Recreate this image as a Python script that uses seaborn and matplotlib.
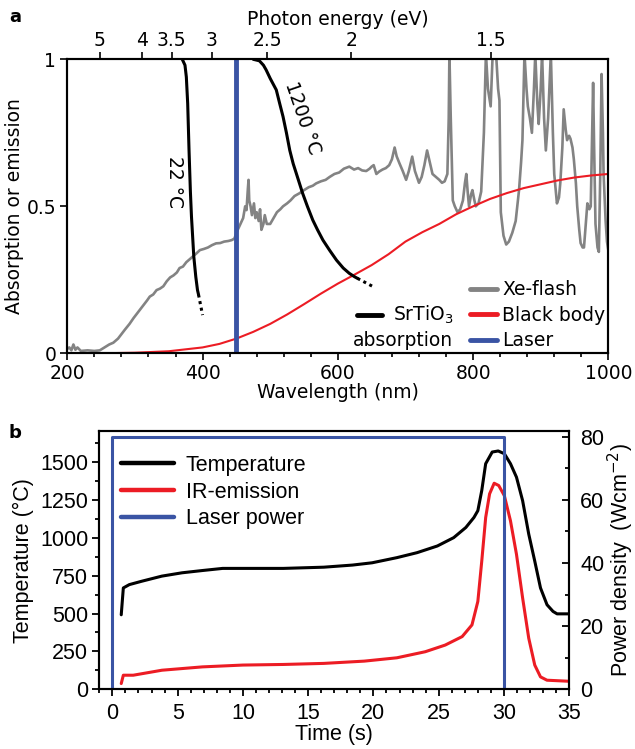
import numpy as np
import pandas as pd
import matplotlib
matplotlib.use('Agg')
import matplotlib.pyplot as plt
import seaborn as sns
from matplotlib.lines import Line2D
from matplotlib.ticker import AutoMinorLocator, MultipleLocator

# ---------------- Panel a data ----------------
xe_wl = [200, 203, 206, 209, 212, 215, 220, 230, 240, 248, 255, 262, 268, 275, 280, 285, 292, 298, 303, 308,
         313, 318, 322, 327, 332, 337, 342, 347, 352, 357, 362, 366, 371, 376, 381, 386, 391, 396, 402, 408,
         414, 420, 426, 432, 438, 443, 447, 452, 456, 460, 463, 465, 467, 468, 469, 471, 473, 476, 478, 480,
         483, 485, 487, 490, 492, 495, 500, 505, 510, 515, 519, 525, 530, 536, 543, 550, 557, 563, 568, 575,
         582, 588, 595, 602, 609, 617, 624, 630, 636, 642, 647, 650, 653, 657, 661, 666, 671, 676, 680, 684,
         687, 691, 696, 701, 705, 708, 710, 714, 720, 724, 728, 732, 736, 740, 745, 750, 754, 758, 762, 764,
         765, 767, 770, 773, 777, 781, 785, 788, 790, 792, 794, 797, 799, 802, 804, 808, 812, 816, 819, 822,
         826, 829, 832, 834, 837, 839, 841, 845, 849, 853, 858, 863, 868, 871, 873, 876, 879, 881, 884, 887,
         890, 892, 895, 897, 900, 902, 905, 907.6, 911, 915, 918, 920, 924, 927, 929, 932, 934, 937, 939, 942,
         944, 947, 949, 952, 954, 957, 959, 962, 964, 967, 969, 972, 974, 976, 977.5, 979, 981, 984, 986, 988,
         990, 992, 993, 996, 998, 1000]
xe_val = [0.015, 0.02, 0.01, 0.03, 0.012, 0.02, 0.008, 0.01, 0.008, 0.01, 0.02, 0.03, 0.036, 0.05, 0.065, 0.08, 0.10, 0.12, 0.135, 0.15,
          0.165, 0.18, 0.193, 0.20, 0.215, 0.22, 0.228, 0.245, 0.258, 0.265, 0.275, 0.29, 0.295, 0.31, 0.32, 0.33, 0.34, 0.351, 0.355, 0.36,
          0.368, 0.374, 0.375, 0.38, 0.382, 0.385, 0.39, 0.42, 0.44, 0.46, 0.50, 0.487, 0.56, 0.59, 0.52, 0.50, 0.47, 0.51, 0.46, 0.48,
          0.45, 0.49, 0.42, 0.44, 0.47, 0.44, 0.44, 0.46, 0.48, 0.49, 0.50, 0.51, 0.52, 0.535, 0.544, 0.555, 0.565, 0.57, 0.578, 0.585,
          0.59, 0.60, 0.61, 0.615, 0.628, 0.635, 0.625, 0.63, 0.622, 0.62, 0.628, 0.635, 0.64, 0.61, 0.618, 0.625, 0.63, 0.64, 0.66, 0.70,
          0.67, 0.647, 0.62, 0.59, 0.62, 0.65, 0.669, 0.62, 0.58, 0.60, 0.64, 0.69, 0.65, 0.61, 0.60, 0.59, 0.58, 0.585, 0.61, 0.80,
          1.02, 0.80, 0.52, 0.50, 0.48, 0.49, 0.52, 0.58, 0.61, 0.55, 0.50, 0.54, 0.555, 0.52, 0.50, 0.51, 0.55, 0.75, 1.02, 0.90,
          0.84, 1.02, 1.02, 1.02, 0.90, 0.86, 0.48, 0.40, 0.37, 0.38, 0.41, 0.45, 0.556, 0.65, 0.725, 1.02, 0.90, 0.84, 0.80, 0.75,
          0.90, 1.02, 0.85, 0.78, 0.90, 1.02, 0.80, 0.69, 0.80, 1.02, 0.75, 0.61, 0.51, 0.53, 0.58, 0.70, 0.83, 0.76, 0.725, 0.74,
          0.73, 0.70, 0.66, 0.58, 0.50, 0.42, 0.375, 0.36, 0.36, 0.45, 0.51, 0.49, 0.50, 0.75, 0.92, 0.70, 0.44, 0.36, 0.345, 0.60,
          0.95, 0.75, 0.61, 0.45, 0.38, 0.35]

bb_wl = [200, 250, 300, 350, 400, 425, 450, 475, 500, 525, 550, 575, 600, 625, 650, 675, 700, 725, 750, 775,
         800, 825, 850, 875, 900, 925, 950, 975, 1000]
bb_val = [0.0, 0.0, 0.002, 0.007, 0.02, 0.032, 0.05, 0.073, 0.10, 0.132, 0.167, 0.203, 0.237, 0.268, 0.30, 0.337, 0.38, 0.412, 0.44, 0.473,
          0.50, 0.525, 0.545, 0.562, 0.575, 0.588, 0.598, 0.605, 0.61]

s22_wl = [370, 374, 376, 378, 380, 382, 383.6, 385.5, 387, 390, 392.5, 394]
s22_val = [1.0, 0.98, 0.94, 0.85, 0.69, 0.55, 0.465, 0.39, 0.33, 0.26, 0.215, 0.20]
s22d_wl = [394, 400]
s22d_val = [0.20, 0.13]

s1200_wl = [475, 484, 490, 494, 500, 509, 514, 519, 524, 529, 534, 538.6, 548, 555, 563, 570, 578, 588, 598, 608, 617, 625, 629]
s1200_val = [1.0, 0.995, 0.98, 0.964, 0.935, 0.896, 0.85, 0.805, 0.75, 0.69, 0.645, 0.612, 0.544, 0.50, 0.453, 0.42, 0.385, 0.35, 0.317, 0.29, 0.272, 0.26, 0.255]
s1200d_wl = [629, 652]
s1200d_val = [0.255, 0.227]

laser_wl = [450, 450]
laser_val = [0.0, 1.0]

energy_ticks = [5, 4, 3.5, 3, 2.5, 2, 1.5]
energy_labels = ['5', '4', '3.5', '3', '2.5', '2', '1.5']

# ---------------- Panel b data ----------------
temp_t = [0.68, 0.84, 1.3, 2.24, 3.79, 5.34, 6.9, 8.45, 10, 13.1, 16.2, 18.4, 19.9, 21.8, 23.35, 24.9, 26.15, 27.08, 27.7, 28.0,
          28.3, 28.6, 29.1, 29.56, 30.03, 30.5, 30.96, 31.43, 31.9, 32.36, 32.8, 33.3, 33.76, 34.07, 35]
temp_T = [492, 669, 691, 713, 747, 769, 784, 798, 798, 798, 806, 820, 835, 869, 902, 946, 1001, 1068, 1134, 1179,
          1312, 1489, 1566, 1573, 1555, 1489, 1400, 1245, 1024, 846, 669, 558, 514, 498, 498]
ir_t = [0.68, 0.84, 1.6, 3.8, 6.9, 10, 13.1, 16.2, 19.3, 21.8, 23.97, 25.5, 26.8, 27.55, 28.0, 28.3, 28.6, 28.9, 29.25, 29.6,
        30.03, 30.5, 30.96, 31.43, 31.9, 32.36, 32.8, 33.3, 35]
ir_T = [38, 93, 93, 126, 148, 160, 164, 171, 186, 208, 248, 292, 348, 425, 580, 846, 1134, 1290, 1360, 1345,
        1278, 1112, 891, 603, 337, 160, 82, 60, 53]
laser_t = [0, 0, 30, 30]
laser_P = [0, 80, 80, 0]

# ---------------- Style ----------------
sns.set_theme(style='ticks')
plt.rcParams['font.family'] = ['DejaVu Sans']
plt.rcParams['axes.linewidth'] = 1.5
for k in ['text.color', 'axes.labelcolor', 'xtick.color', 'ytick.color', 'axes.edgecolor']:
    plt.rcParams[k] = 'black'

GRAY = '#838383'
RED = '#ec1c24'
BLUE = '#3a54a4'
BLACK = '#000000'

fig = plt.figure(figsize=(6.35, 7.49), dpi=100)

# ================= Panel a =================
ax1 = fig.add_axes([0.106, 0.5283, 0.852, 0.3925])
fs_a = 13.5

sns.lineplot(data=pd.DataFrame({'wl': xe_wl, 'v': xe_val}), x='wl', y='v', ax=ax1,
             color=GRAY, lw=1.9, sort=False, estimator=None)
sns.lineplot(data=pd.DataFrame({'wl': bb_wl, 'v': bb_val}), x='wl', y='v', ax=ax1,
             color=RED, lw=1.5, sort=False, estimator=None)
for wl, v, ls in [(s22_wl, s22_val, '-'), (s22d_wl, s22d_val, (0, (1, 1.2))),
                  (s1200_wl, s1200_val, '-'), (s1200d_wl, s1200d_val, (0, (1, 1.2)))]:
    sns.lineplot(data=pd.DataFrame({'wl': wl, 'v': v}), x='wl', y='v', ax=ax1,
                 color=BLACK, lw=2.2, linestyle=ls, sort=False, estimator=None)
sns.lineplot(data=pd.DataFrame({'wl': laser_wl, 'v': laser_val}), x='wl', y='v', ax=ax1,
             color=BLUE, lw=3.5, sort=False, estimator=None)

ax1.set_xlim(200, 1000)
ax1.set_ylim(0, 1)
ax1.set_xticks([200, 400, 600, 800, 1000])
ax1.xaxis.set_minor_locator(AutoMinorLocator(5))
ax1.set_yticks([0, 0.5, 1])
ax1.set_yticklabels(['0', '0.5', '1'])
ax1.tick_params(axis='both', which='major', direction='out', length=5, width=1.2,
                labelsize=fs_a, pad=3, colors='black')
ax1.tick_params(axis='x', which='minor', direction='out', length=3, width=1.2)
ax1.set_xlabel('Wavelength (nm)', fontsize=fs_a, labelpad=0)
ax1.set_ylabel('Absorption or emission', fontsize=fs_a, labelpad=2)
for s in ax1.spines.values():
    s.set_linewidth(1.5)
    s.set_color('black')

ax1t = ax1.twiny()
ax1t.set_xlim(200, 1000)
ax1t.set_xticks([1240.0 / e for e in energy_ticks])
ax1t.set_xticklabels(energy_labels)
ax1t.tick_params(axis='x', which='major', direction='out', length=5, width=1.2,
                 labelsize=fs_a, pad=2)
ax1t.set_xlabel('Photon energy (eV)', fontsize=fs_a, labelpad=4)

ax1.text(359, 0.583, '22 °C', rotation=-90, fontsize=fs_a, ha='center', va='center')
ax1.text(548, 0.80, '1200 °C', rotation=-71, fontsize=fs_a, ha='center', va='center',
         rotation_mode='anchor')

handles = [Line2D([], [], color=GRAY, lw=3.5), Line2D([], [], color=RED, lw=3.5),
           Line2D([], [], color=BLUE, lw=3.5)]
ax1.legend(handles, ['Xe-flash', 'Black body', 'Laser'], loc='lower right',
           bbox_to_anchor=(0.994, 0.011), frameon=False, fontsize=fs_a, borderpad=0,
           borderaxespad=0, handlelength=1.42, handletextpad=0.27, labelspacing=0.34)
ax1.add_line(Line2D([0.5355, 0.5817], [0.130, 0.130], transform=ax1.transAxes,
                    color=BLACK, lw=3.5))
ax1.text(0.713, 0.11, 'SrTiO$_3$', transform=ax1.transAxes, ha='right', va='baseline', fontsize=fs_a)
ax1.text(0.713, 0.025, 'absorption', transform=ax1.transAxes, ha='right', va='baseline', fontsize=fs_a)

fig.text(0.014, 0.977, 'a', fontsize=13, fontweight='bold', ha='left', va='center')

# ================= Panel b =================
fs_b = 15.5
FB = ['Liberation Sans', 'DejaVu Sans']
ax2 = fig.add_axes([0.1564, 0.0797, 0.740, 0.3449])
sns.lineplot(data=pd.DataFrame({'t': temp_t, 'T': temp_T}), x='t', y='T', ax=ax2,
             color=BLACK, lw=2.2, sort=False, estimator=None)
sns.lineplot(data=pd.DataFrame({'t': ir_t, 'T': ir_T}), x='t', y='T', ax=ax2,
             color=RED, lw=2.2, sort=False, estimator=None)
ax2.set_xlim(-1, 35)
ax2.set_ylim(0, 1705)
ax2.set_xticks(range(0, 36, 5))
ax2.xaxis.set_minor_locator(MultipleLocator(1))
ax2.set_yticks(range(0, 1501, 250))
ax2.yaxis.set_minor_locator(MultipleLocator(125))
ax2.tick_params(axis='both', which='major', direction='out', length=5, width=1.3,
                labelsize=fs_b, pad=3)
ax2.tick_params(axis='x', which='major', pad=5)
ax2.tick_params(axis='both', which='minor', direction='out', length=3, width=1.3)
for lab in ax2.get_xticklabels() + ax2.get_yticklabels():
    lab.set_family(FB)
ax2.set_xlabel('Time (s)', fontsize=fs_b, family=FB, labelpad=0)
ax2.set_ylabel('Temperature (°C)', fontsize=fs_b, family=FB, labelpad=4)
for s in ax2.spines.values():
    s.set_linewidth(1.5)
    s.set_color('black')

ax2r = ax2.twinx()
sns.lineplot(data=pd.DataFrame({'t': laser_t, 'P': laser_P}), x='t', y='P', ax=ax2r,
             color=BLUE, lw=2.2, sort=False, estimator=None)
ax2r.set_ylim(0, 81.8)
ax2r.set_yticks([0, 20, 40, 60, 80])
ax2r.yaxis.set_minor_locator(MultipleLocator(10))
ax2r.tick_params(axis='y', which='major', direction='in', length=5, width=1.3,
                 labelsize=fs_b, pad=8)
ax2r.tick_params(axis='y', which='minor', direction='in', length=3, width=1.3)
for lab in ax2r.get_yticklabels():
    lab.set_family(FB)
ax2r.set_ylabel('Power density  (Wcm$^{-2}$)', fontsize=fs_b, family=FB, labelpad=1)
for s in ax2r.spines.values():
    s.set_linewidth(1.5)
    s.set_color('black')

hb = [Line2D([], [], color=BLACK, lw=3.2), Line2D([], [], color=RED, lw=3.2),
      Line2D([], [], color=BLUE, lw=3.2)]
ax2.legend(hb, ['Temperature', 'IR-emission', 'Laser power'], loc='upper left',
           bbox_to_anchor=(0.046, 0.907), frameon=False, borderpad=0, borderaxespad=0,
           handlelength=2.45, handletextpad=0.56, labelspacing=0.26,
           prop={'family': FB, 'size': fs_b})

fig.text(0.014, 0.422, 'b', fontsize=13, fontweight='bold', ha='left', va='center')

fig.savefig('out.png', dpi=100)
